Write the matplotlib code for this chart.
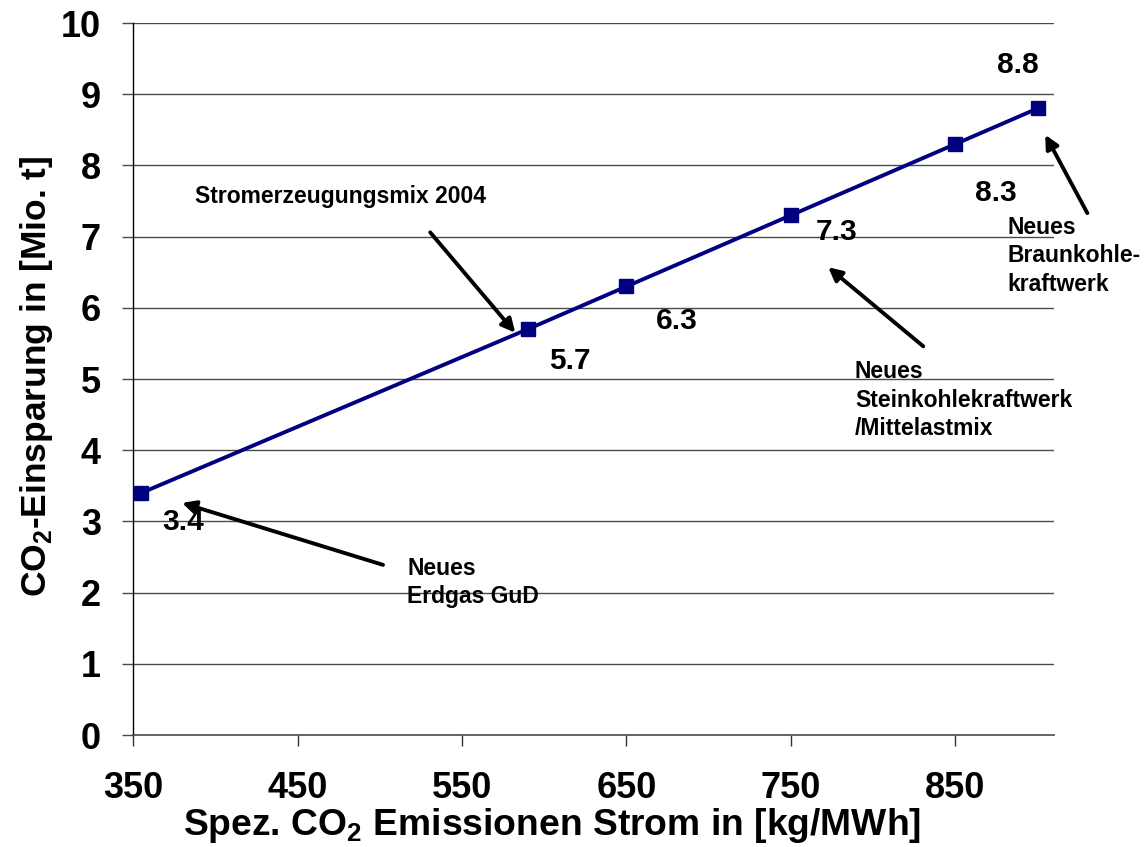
import numpy as np
import matplotlib
matplotlib.use('Agg')
import matplotlib.pyplot as plt

plt.rcParams['font.family'] = ['Liberation Sans', 'DejaVu Sans']
plt.rcParams['font.weight'] = 'bold'
plt.rcParams['mathtext.fontset'] = 'custom'
plt.rcParams['mathtext.rm'] = 'Liberation Sans:bold'
plt.rcParams['mathtext.bf'] = 'Liberation Sans:bold'

# Daten
emission = [355, 590, 650, 750, 850, 900]          # kg/MWh
einsparung = [3.4, 5.7, 6.3, 7.3, 8.3, 8.8]        # Mio. t
wert_labels = ['3.4', '5.7', '6.3', '7.3', '8.3', '8.8']
x_ticks = [350, 450, 550, 650, 750, 850]
y_ticks = list(range(0, 11))

# Versatz der Wertbeschriftungen (Punkte)
label_offsets = [(30, -21), (30, -23), (36, -25), (33, -12), (29, -35), (-14, 31)]

# Annotationen: Text, Textposition, Pfeil-Start, Pfeil-Spitze (Datenkoordinaten)
annotationen = [
    ('Stromerzeugungsmix 2004', (387.7, 7.56), (530.7, 7.06), (582.4, 5.65)),
    ('Neues\nErdgas GuD', (516.7, 2.14), (502.0, 2.39), (379.8, 3.26)),
    ('Neues\nSteinkohlekraftwerk\n/Mittelastmix', (789.0, 4.70), (830.5, 5.46), (772.7, 6.57)),
    ('Neues\nBraunkohle-\nkraftwerk', (881.6, 6.73), (930.3, 7.33), (904.7, 8.43)),
]


def main():
    fig = plt.figure(figsize=(11.46, 8.47), dpi=100)
    ax = fig.add_axes([0.1161, 0.1322, 0.9197 - 0.1161, 0.9728 - 0.1322])

    ax.set_xlim(350, 910)
    ax.set_ylim(0, 10)

    # Gitterlinien
    for y in y_ticks[1:]:
        ax.axhline(y, color='#4a4a4a', lw=1.0, zorder=1)

    ax.plot(emission, einsparung, color='#000080', lw=2.8, marker='s',
            markersize=10, markerfacecolor='#000080', markeredgecolor='#000080',
            zorder=3)

    for x, y, lab, off in zip(emission, einsparung, wert_labels, label_offsets):
        ax.annotate(lab, (x, y), xytext=off, textcoords='offset points',
                    ha='center', va='center', fontsize=21.5, fontweight='bold',
                    annotation_clip=False)

    for text, pos, start, tip in annotationen:
        ax.text(pos[0], pos[1], text, ha='left', va='center', fontsize=16.5,
                fontweight='bold', linespacing=1.3, clip_on=False)
        ax.annotate('', xy=tip, xytext=start,
                    arrowprops=dict(arrowstyle='-|>', lw=2.8, color='black',
                                    mutation_scale=20, shrinkA=0, shrinkB=0),
                    annotation_clip=False)

    ax.spines['top'].set_visible(False)
    ax.spines['right'].set_visible(False)
    ax.spines['left'].set_color('black')
    ax.spines['left'].set_linewidth(1.0)
    ax.spines['bottom'].set_color('#4a4a4a')
    ax.spines['bottom'].set_linewidth(1.2)

    ax.set_xticks(x_ticks)
    ax.set_yticks(y_ticks)
    ax.tick_params(axis='x', direction='out', length=8, width=1.0,
                   color='#333333', labelsize=26, pad=18)
    ax.tick_params(axis='y', direction='out', length=8, width=1.0,
                   color='#4a4a4a', labelsize=26, pad=15)
    for lab in ax.get_xticklabels() + ax.get_yticklabels():
        lab.set_fontweight('bold')

    fig.text(0.482, 0.025, r'Spez. CO$_{\mathbf{2}}$ Emissionen Strom in [kg/MWh]',
             ha='center', va='center', fontsize=26.8, fontweight='bold')
    fig.text(0.032, 0.556, r'CO$_{\mathbf{2}}$-Einsparung in [Mio. t]',
             ha='center', va='center', rotation=90, fontsize=25.5, fontweight='bold')

    fig.savefig('out.png', dpi=100)


if __name__ == '__main__':
    main()
